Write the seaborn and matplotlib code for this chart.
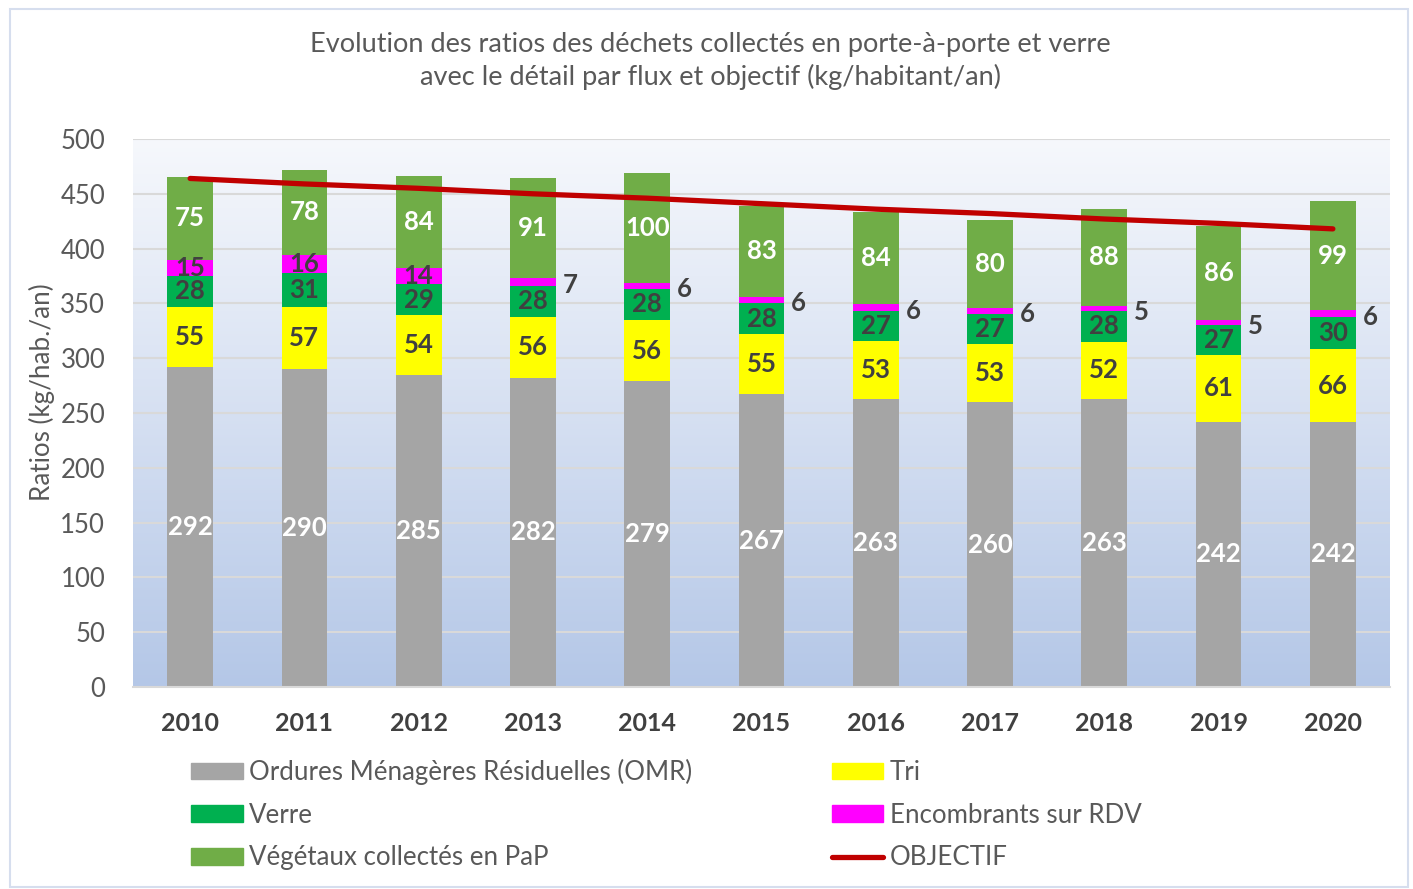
import numpy as np
import pandas as pd
import matplotlib.pyplot as plt
import seaborn as sns
from matplotlib.colors import LinearSegmentedColormap
from matplotlib.patches import Patch, Rectangle
from matplotlib.lines import Line2D

# Data (kg/habitant/an)
annees = ["2010", "2011", "2012", "2013", "2014", "2015", "2016", "2017", "2018", "2019", "2020"]
omr = [292, 290, 285, 282, 279, 267, 263, 260, 263, 242, 242]
tri = [55, 57, 54, 56, 56, 55, 53, 53, 52, 61, 66]
verre = [28, 31, 29, 28, 28, 28, 27, 27, 28, 27, 30]
encombrants = [15, 16, 14, 7, 6, 6, 6, 6, 5, 5, 6]
vegetaux = [75, 78, 84, 91, 100, 83, 84, 80, 88, 86, 99]
objectif = [464, 459, 455, 450, 446, 441, 436, 432, 427, 423, 418]

noms = ["Ordures Ménagères Résiduelles (OMR)", "Tri", "Verre",
        "Encombrants sur RDV", "Végétaux collectés en PaP"]
couleurs = ["#A5A5A5", "#FFFF00", "#00B050", "#FF00FF", "#70AD47"]
couleurs_txt = ["white", "#404040", "#404040", "#404040", "white"]

df = pd.DataFrame({"annee": annees, "omr": omr, "tri": tri, "verre": verre,
                   "enc": encombrants, "veg": vegetaux})
series = ["omr", "tri", "verre", "enc", "veg"]
cumul = df[series].cumsum(axis=1)

sns.set_theme(style="white")
plt.rcParams["font.family"] = ["Lato", "DejaVu Sans"]

fig = plt.figure(figsize=(14.13, 8.89), dpi=100)
ax = fig.add_axes([133 / 1413, 1 - 687 / 889, 1257 / 1413, 548 / 889])

# gradient background of the plot area
fond = LinearSegmentedColormap.from_list("fond", ["#B4C7E7", "#D6E0F2", "#F6F8FC"])
ax.imshow(np.linspace(0, 1, 256).reshape(-1, 1), cmap=fond, origin="lower",
          extent=[-0.5, 10.5, 0, 500], aspect="auto", zorder=0)

# stacked bars: draw cumulative totals from the top layer down
for i in reversed(range(len(series))):
    sns.barplot(x=df["annee"], y=cumul[series[i]], color=couleurs[i], saturation=1,
                width=0.4, ax=ax, zorder=2, linewidth=0, edgecolor="none")

sns.lineplot(x=np.arange(len(annees)), y=objectif, color="#C00000", linewidth=3.8,
             ax=ax, zorder=4, solid_capstyle="round")

# data labels
for j in range(len(annees)):
    for i, s in enumerate(series):
        haut = cumul[s].iloc[j]
        val = df[s].iloc[j]
        milieu = haut - val / 2
        if s == "enc" and val < 10:
            ax.text(j + 0.26, milieu - 3, str(val), ha="left", va="center", fontsize=18.5,
                    fontweight="bold", color="#404040", zorder=5)
        else:
            ax.text(j, milieu, str(val), ha="center", va="center", fontsize=18.5,
                    fontweight="bold", color=couleurs_txt[i], zorder=5)

ax.set_xlim(-0.5, 10.5)
ax.set_ylim(0, 500)
ax.set_yticks(range(0, 501, 50))
ax.set_axisbelow(True)
ax.grid(axis="y", color="#D9D9D9", linewidth=1.5, zorder=1)
ax.grid(axis="x", visible=False)
for sp in ["top", "left", "right"]:
    ax.spines[sp].set_visible(False)
ax.spines["bottom"].set_color("#D9D9D9")
ax.spines["bottom"].set_linewidth(1.5)
ax.tick_params(axis="y", length=0, pad=20, labelsize=18.5, labelcolor="#595959")
ax.tick_params(axis="x", length=0, pad=18, labelsize=18, labelcolor="#404040")
for t in ax.get_xticklabels():
    t.set_fontweight("bold")
ax.set_xlabel("")
ax.set_ylabel("")

fig.text(42 / 1413, 1 - 392 / 889, "Ratios (kg/hab./an)", rotation=90, ha="center",
         va="center", fontsize=18.7, color="#595959")
fig.text(710 / 1413, 1 - 61 / 889,
         "Evolution des ratios des déchets collectés en porte-à-porte et verre\n"
         "avec le détail par flux et objectif (kg/habitant/an)",
         ha="center", va="center", fontsize=19.5, color="#595959", linespacing=1.3)

# legend (column-wise order to match the 2-column layout)
h = [Patch(color=c) for c in couleurs]
ligne = Line2D([], [], color="#C00000", linewidth=3.8)
handles = [h[0], h[2], h[4], h[1], h[3], ligne]
labels = [noms[0], noms[2], noms[4], noms[1], noms[3], "OBJECTIF"]
fig.legend(handles, labels, loc="upper left", bbox_to_anchor=(191 / 1413, 1 - 759 / 889),
           ncol=2, frameon=False, fontsize=18.6, labelcolor="#595959", handlelength=2.0,
           handleheight=0.62, handletextpad=0.25, labelspacing=0.68, columnspacing=5.4,
           borderpad=0, borderaxespad=0)

fig.patches.append(Rectangle((10 / 1413, 2 / 889), 1398 / 1413, 878 / 889,
                             transform=fig.transFigure, fill=False,
                             edgecolor="#D6DEEE", linewidth=1.5))

fig.savefig("out.png", dpi=100)
plt.close(fig)
